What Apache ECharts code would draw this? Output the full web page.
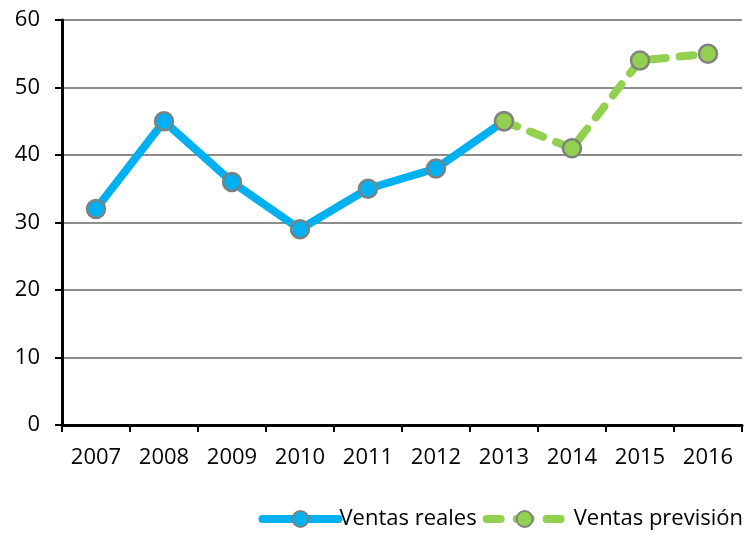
<!DOCTYPE html>
<html>
<head>
<meta charset="utf-8">
<script src="https://cdn.jsdelivr.net/npm/echarts@6/dist/echarts.min.js"></script>
<style>
  html, body { margin: 0; padding: 0; background: #fff; }
  #chart { width: 748px; height: 537px; }
</style>
</head>
<body>
<div id="chart"></div>
<script>
// datos
const years = ['2007', '2008', '2009', '2010', '2011', '2012', '2013', '2014', '2015', '2016']
const ventasReales = [32, 45, 36, 29, 35, 38, 45, null, null, null]
const ventasPrevision = [null, null, null, null, null, null, 45, 41, 54, 55]

const chart = echarts.init(document.getElementById('chart'))
const font = '"Open Sans", Lato, sans-serif'

const option = {
  animation: false,
  textStyle: { fontFamily: font },
  grid: { left: 62, right: 6, top: 20, bottom: 112 },
  legend: {
    right: 0,
    bottom: 2,
    itemWidth: 76,
    itemHeight: 20,
    itemGap: 6,
    textStyle: { fontSize: 22, color: '#000', fontFamily: font, padding: [0, 0, 0, -4] },
    data: [
      { name: 'Ventas reales', lineStyle: { width: 8, cap: 'round' } },
      {
        name: 'Ventas previsión',
        lineStyle: { width: 8, cap: 'round', type: [14, 16] },
        textStyle: { padding: [0, 0, 0, 6] }
      }
    ]
  },
  xAxis: {
    type: 'category',
    data: years,
    boundaryGap: true,
    axisLine: { lineStyle: { color: '#000', width: 3 } },
    axisTick: { show: true, length: 7, lineStyle: { color: '#000', width: 2 } },
    axisLabel: { fontSize: 22, color: '#000', margin: 22, fontFamily: font },
    splitLine: { show: false }
  },
  yAxis: {
    type: 'value',
    min: 0,
    max: 60,
    interval: 10,
    axisLine: { show: true, lineStyle: { color: '#000', width: 3 } },
    axisTick: { show: true, length: 7, lineStyle: { color: '#000', width: 2 } },
    axisLabel: { fontSize: 22, color: '#000', margin: 22, fontFamily: font },
    splitLine: { lineStyle: { color: '#8c8c8c', width: 2 } }
  },
  series: [
    {
      name: 'Ventas reales',
      type: 'line',
      data: ventasReales,
      symbol: 'circle',
      symbolSize: 18,
      lineStyle: { color: '#00B0F0', width: 8 },
      itemStyle: { color: '#00B0F0', borderColor: '#808080', borderWidth: 2.5 },
      z: 2
    },
    {
      name: 'Ventas previsión',
      type: 'line',
      data: ventasPrevision,
      symbol: 'circle',
      symbolSize: 18,
      lineStyle: { color: '#92D050', width: 8, type: [14, 14], cap: 'round' },
      itemStyle: { color: '#92D050', borderColor: '#808080', borderWidth: 2.5 },
      z: 3
    }
  ]
}

chart.setOption(option)
window.addEventListener('resize', function() {
  chart.resize()
})
</script>
</body>
</html>
